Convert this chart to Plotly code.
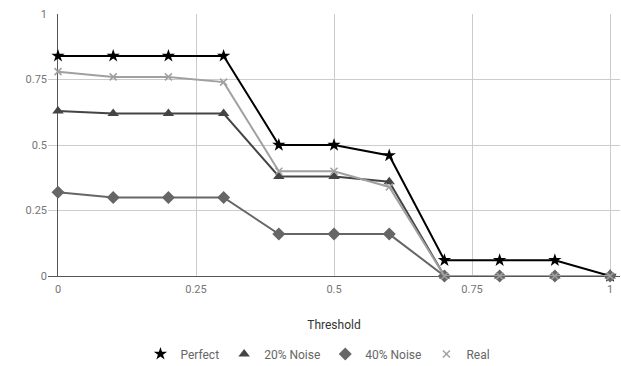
import plotly.graph_objects as go

thresholds = [0, 0.1, 0.2, 0.3, 0.4, 0.5, 0.6, 0.7, 0.8, 0.9, 1.0]
perfect = [0.84, 0.84, 0.84, 0.84, 0.50, 0.50, 0.46, 0.06, 0.06, 0.06, 0.0]
noise20 = [0.63, 0.62, 0.62, 0.62, 0.38, 0.38, 0.36, 0.0, 0.0, 0.0, 0.0]
noise40 = [0.32, 0.30, 0.30, 0.30, 0.16, 0.16, 0.16, 0.0, 0.0, 0.0, 0.0]
real = [0.78, 0.76, 0.76, 0.74, 0.40, 0.40, 0.34, 0.0, 0.0, 0.0, 0.0]

tick_vals = [0, 0.25, 0.5, 0.75, 1]
tick_text = ["0", "0.25", "0.5", "0.75", "1"]

series = [
    ("Perfect", perfect, "#000000", "star", 10),
    ("20% Noise", noise20, "#444444", "triangle-up", 10),
    ("40% Noise", noise40, "#666666", "diamond", 10),
    ("Real", real, "#a0a0a0", "x-thin", 7),
]

fig = go.Figure()
for name, vals, color, sym, size in series:
    marker = dict(symbol=sym, size=size, color=color)
    if sym == "x-thin":
        marker["line"] = dict(color=color, width=1.5)
    fig.add_trace(go.Scatter(
        x=thresholds, y=vals, name=name, mode="lines+markers",
        line=dict(color=color, width=2), marker=marker,
        showlegend=False, cliponaxis=False,
    ))
# legend entries showing marker only
for name, vals, color, sym, size in series:
    marker = dict(symbol=sym, size=size, color=color)
    if sym == "x-thin":
        marker["line"] = dict(color=color, width=1.5)
    fig.add_trace(go.Scatter(
        x=[None], y=[None], name=name, mode="markers", marker=marker,
        showlegend=True,
    ))

fig.update_layout(
    width=621, height=366,
    margin=dict(l=48, r=1, t=14, b=90, autoexpand=False),
    paper_bgcolor="white", plot_bgcolor="white",
    font=dict(family="Roboto", size=11, color="#757575"),
    showlegend=True,
    legend=dict(orientation="h", x=0.512, xanchor="center", xref="container",
                y=0.033, yanchor="middle", yref="container",
                font=dict(size=12, color="#666666"),
                itemwidth=30, tracegroupgap=0),
    xaxis=dict(range=[-0.0181, 1.018], tickvals=tick_vals, ticktext=tick_text,
               automargin=False, ticklabelstandoff=5,
               showgrid=True, gridcolor="#cccccc", gridwidth=1,
               zeroline=True, zerolinecolor="#555555", zerolinewidth=1,
               showline=False, ticks="", ticklen=0,
               title=dict(text="Threshold", font=dict(size=12, color="#333333"), standoff=25)),
    yaxis=dict(range=[0, 1], tickvals=tick_vals, ticktext=tick_text,
               automargin=False,
               showgrid=True, gridcolor="#cccccc", gridwidth=1,
               zeroline=True, zerolinecolor="#555555", zerolinewidth=1,
               showline=False, ticks="", ticksuffix="  "),
)

fig.write_html("out.html", config={"displayModeBar": False},
               post_script="document.body.style.margin='0';document.body.style.padding='0';")
